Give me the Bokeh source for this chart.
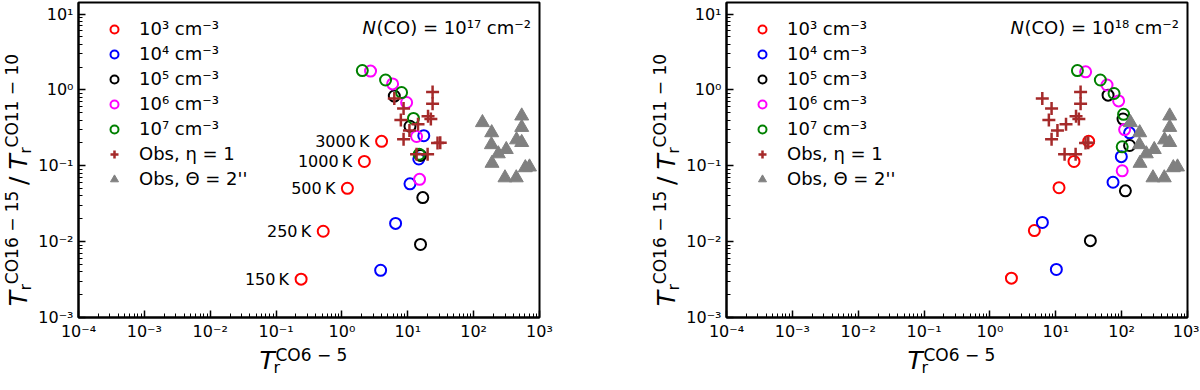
import numpy as np
from bokeh.plotting import figure
from bokeh.models import (Range1d, FixedTicker, CustomJSTickFormatter, Label,
                          Legend, LegendItem, ColumnDataSource)
from bokeh.layouts import row, column
from bokeh.embed import file_html
from bokeh.resources import INLINE
from bokeh.core.properties import value

FONT = "DejaVu Sans"

# ---------------- data ----------------
temp_labels = ["150\u2009K", "250\u2009K", "500\u2009K", "1000\u2009K", "3000\u2009K"]

# N(CO) = 1e17 cm^-2
x17_n3 = [0.24, 0.52, 1.21, 2.19, 4.0]
y17_n3 = [3.2e-3, 0.0137, 0.0505, 0.114, 0.21]
x17_n4 = [3.87, 6.53, 10.8, 14.7, 17.5]
y17_n4 = [4.19e-3, 0.0174, 0.0578, 0.123, 0.249]
x17_n5 = [15.6, 16.9, 15.6, 10.8, 6.24]
y17_n5 = [9.18e-3, 0.0381, 0.137, 0.332, 0.83]
x17_n6 = [15.1, 13.6, 9.6, 5.88, 2.72]
y17_n6 = [0.0662, 0.243, 0.682, 1.20, 1.77]
x17_n7 = [14.9, 12.2, 8.05, 4.60, 2.04]
y17_n7 = [0.142, 0.421, 0.923, 1.35, 1.80]

# N(CO) = 1e18 cm^-2
x18_n3 = [2.12, 4.73, 11.2, 18.9, 31.6]
y18_n3 = [3.3e-3, 0.0140, 0.0514, 0.114, 0.21]
x18_n4 = [10.2, 6.26, 74.0, 98.9, 132.0]
y18_n4 = [4.3e-3, 0.0179, 0.0607, 0.132, 0.272]
x18_n5 = [33.5, 114.0, 132.0, 105.0, 62.2]
y18_n5 = [0.0103, 0.0467, 0.185, 0.413, 0.853]
x18_n6 = [102.0, 111.0, 90.0, 60.0, 28.4]
y18_n6 = [0.0859, 0.300, 0.716, 1.16, 1.73]
x18_n7 = [102.0, 107.0, 76.7, 47.5, 21.3]
y18_n7 = [0.178, 0.477, 0.897, 1.35, 1.80]

# observations
obs_eta_x = [6.24, 8.63, 7.85, 10.6, 14.3, 8.63, 23.8, 23.8, 20.3, 22.4, 28.3, 31.1, 13.6, 20.0]
obs_eta_y = [0.771, 0.569, 0.401, 0.291, 0.352, 0.224, 0.94, 0.658, 0.451, 0.413, 0.200, 0.201, 0.142, 0.142]
obs_theta_x = [136, 188, 186, 237, 313, 190, 299, 444, 537, 537, 448, 537, 609, 705]
obs_theta_y = [0.371, 0.273, 0.190, 0.144, 0.164, 0.108, 0.0695, 0.0695, 0.454, 0.321, 0.220, 0.203, 0.0944, 0.0966]

density_labels = ["10\u00b3 cm\u207b\u00b3", "10\u2074 cm\u207b\u00b3", "10\u2075 cm\u207b\u00b3",
                  "10\u2076 cm\u207b\u00b3", "10\u2077 cm\u207b\u00b3"]
density_colors = ["red", "blue", "black", "magenta", "green"]
obs_labels = ["Obs, \u03b7 = 1", "Obs, \u0398 = 2''"]

# ---------------- layout sizes ----------------
FRAME_W, FRAME_H = 461, 315
TOP, BOTTOM, LEFT = 2, 22, 34
YLAB_W = 35
MAIN_H = TOP + FRAME_H + BOTTOM      # 339
XLAB_H = 35                           # total height 374

fmt = CustomJSTickFormatter(code="""
const sup = {"-": "\u207b", "0": "\u2070", "1": "\u00b9", "2": "\u00b2", "3": "\u00b3",
             "4": "\u2074", "5": "\u2075", "6": "\u2076", "7": "\u2077", "8": "\u2078", "9": "\u2079"};
const e = Math.round(Math.log10(tick));
let s = "";
for (const c of String(e)) { s += sup[c]; }
return "10" + s;
""")


def lab(p, x, y, text, size, italic=False, angle=0.0, align="left", baseline="middle", units="data"):
    p.add_layout(Label(x=x, y=y, x_units=units, y_units=units, text=text,
                       text_font=FONT, text_font_size=f"{size}px",
                       text_font_style="italic" if italic else "normal",
                       angle=angle, text_align=align, text_baseline=baseline,
                       text_color="black"))


def blank(w, h):
    p = figure(width=w, height=h, x_range=Range1d(0, w), y_range=Range1d(0, h),
               min_border=0, x_axis_location=None, y_axis_location=None,
               output_backend="svg", toolbar_location=None)
    p.grid.visible = False
    p.outline_line_color = None
    p.background_fill_color = "white"
    p.border_fill_color = "white"
    return p


def make_panel(series, ncol_text, right_border, with_temps):
    p = figure(x_axis_type="log", y_axis_type="log",
               x_range=Range1d(1e-4, 1e3), y_range=Range1d(1e-3, 14.2),
               frame_width=FRAME_W, frame_height=FRAME_H,
               min_border_left=LEFT, min_border_right=right_border,
               min_border_top=TOP, min_border_bottom=BOTTOM,
               output_backend="svg", toolbar_location=None)
    p.grid.visible = False
    p.outline_line_color = "black"
    p.outline_line_width = 2
    p.outline_line_alpha = 1
    p.background_fill_color = "white"
    p.border_fill_color = "white"

    p.xaxis.ticker = FixedTicker(ticks=[10.0 ** k for k in range(-4, 4)],
                                 minor_ticks=[m * 10.0 ** k for k in range(-4, 3) for m in range(2, 10)])
    p.yaxis.ticker = FixedTicker(ticks=[10.0 ** k for k in range(-3, 2)],
                                 minor_ticks=[m * 10.0 ** k for k in range(-3, 1) for m in range(2, 10)])
    for ax in (p.xaxis, p.yaxis):
        ax.formatter = fmt
        ax.axis_line_width = 2
        ax.axis_line_color = "black"
        ax.major_tick_in = 7
        ax.major_tick_out = 0
        ax.minor_tick_in = 4
        ax.minor_tick_out = 0
        ax.major_tick_line_width = 1.5
        ax.minor_tick_line_width = 1
        ax.major_label_text_font = FONT
        ax.major_label_text_font_size = "16px"
        ax.major_label_text_color = "black"
    p.xaxis.major_label_standoff = 4
    p.yaxis.major_label_standoff = 5

    rends = []
    for (xs, ys), col in zip(series, density_colors):
        r = p.scatter(xs, ys, marker="circle", size=11, fill_color=None,
                      line_color=col, line_width=2)
        rends.append(r)
    r_eta = p.scatter(obs_eta_x, obs_eta_y, marker="cross", size=13,
                      line_color="brown", line_width=2.5)
    r_th = p.scatter(obs_theta_x, obs_theta_y, marker="triangle", size=14,
                     fill_color="gray", line_color="gray", line_width=1)

    if with_temps:
        xs, ys = series[0]
        src = ColumnDataSource(dict(x=xs, y=ys, t=temp_labels))
        p.text(x="x", y="y", text="t", source=src, text_font=value(FONT),
               text_font_size=value("16px"), text_align="right",
               text_baseline="middle", x_offset=-12, text_color="black")

    items = [LegendItem(label=l, renderers=[r]) for l, r in zip(density_labels, rends)]
    items.append(LegendItem(label=obs_labels[0], renderers=[r_eta]))
    items.append(LegendItem(label=obs_labels[1], renderers=[r_th]))
    leg = Legend(items=items, location="top_left", margin=6, padding=10,
                 glyph_width=40, glyph_height=20, label_height=20, spacing=4,
                 label_standoff=5, label_text_font=FONT, label_text_font_size="18px",
                 label_text_color="black",
                 border_line_alpha=0, background_fill_alpha=0)
    p.add_layout(leg)

    # N(CO) annotation (inside frame, screen units relative to frame)
    lab(p, 284, FRAME_H - 25, "N", 18, italic=True, units="screen")
    lab(p, 298, FRAME_H - 25, ncol_text, 18, units="screen")
    return p


def make_ylabel():
    p = blank(YLAB_W, MAIN_H)
    a = np.pi / 2
    # x = centre line of each piece, y = start of each piece from the strip bottom
    lab(p, 17.7, 8, "T", 25, italic=True, angle=a)
    lab(p, 24.7, 25, "r", 16, angle=a)
    lab(p, 11.4, 32, "CO16 \u2212 15", 17, angle=a)
    lab(p, 17.7, 140, "/", 25, angle=a)
    lab(p, 17.7, 157, "T", 25, italic=True, angle=a)
    lab(p, 24.7, 174, "r", 16, angle=a)
    lab(p, 11.4, 181, "CO11 \u2212 10", 17, angle=a)
    return p


def make_xlabel(w):
    p = blank(w, XLAB_H)
    lab(p, 259, 18.3, "T", 25, italic=True)
    lab(p, 273, 11.3, "r", 16)
    lab(p, 275, 23.6, "CO6 \u2212 5", 17)
    return p


s17 = [(x17_n3, y17_n3), (x17_n4, y17_n4), (x17_n5, y17_n5), (x17_n6, y17_n6), (x17_n7, y17_n7)]
s18 = [(x18_n3, y18_n3), (x18_n4, y18_n4), (x18_n5, y18_n5), (x18_n6, y18_n6), (x18_n7, y18_n7)]

R1 = 639 - YLAB_W - LEFT - FRAME_W   # 109
R2 = 12
p1 = make_panel(s17, "(CO) = 10\u00b9\u2077 cm\u207b\u00b2", R1, True)
p2 = make_panel(s18, "(CO) = 10\u00b9\u2078 cm\u207b\u00b2", R2, False)

W1 = YLAB_W + LEFT + FRAME_W + R1
W2 = YLAB_W + LEFT + FRAME_W + R2

panel1 = column(row(make_ylabel(), p1, spacing=0), make_xlabel(W1), spacing=0)
panel2 = column(row(make_ylabel(), p2, spacing=0), make_xlabel(W2), spacing=0)
layout = row(panel1, panel2, spacing=0)
open("out.html", "w").write(file_html(layout, INLINE))
